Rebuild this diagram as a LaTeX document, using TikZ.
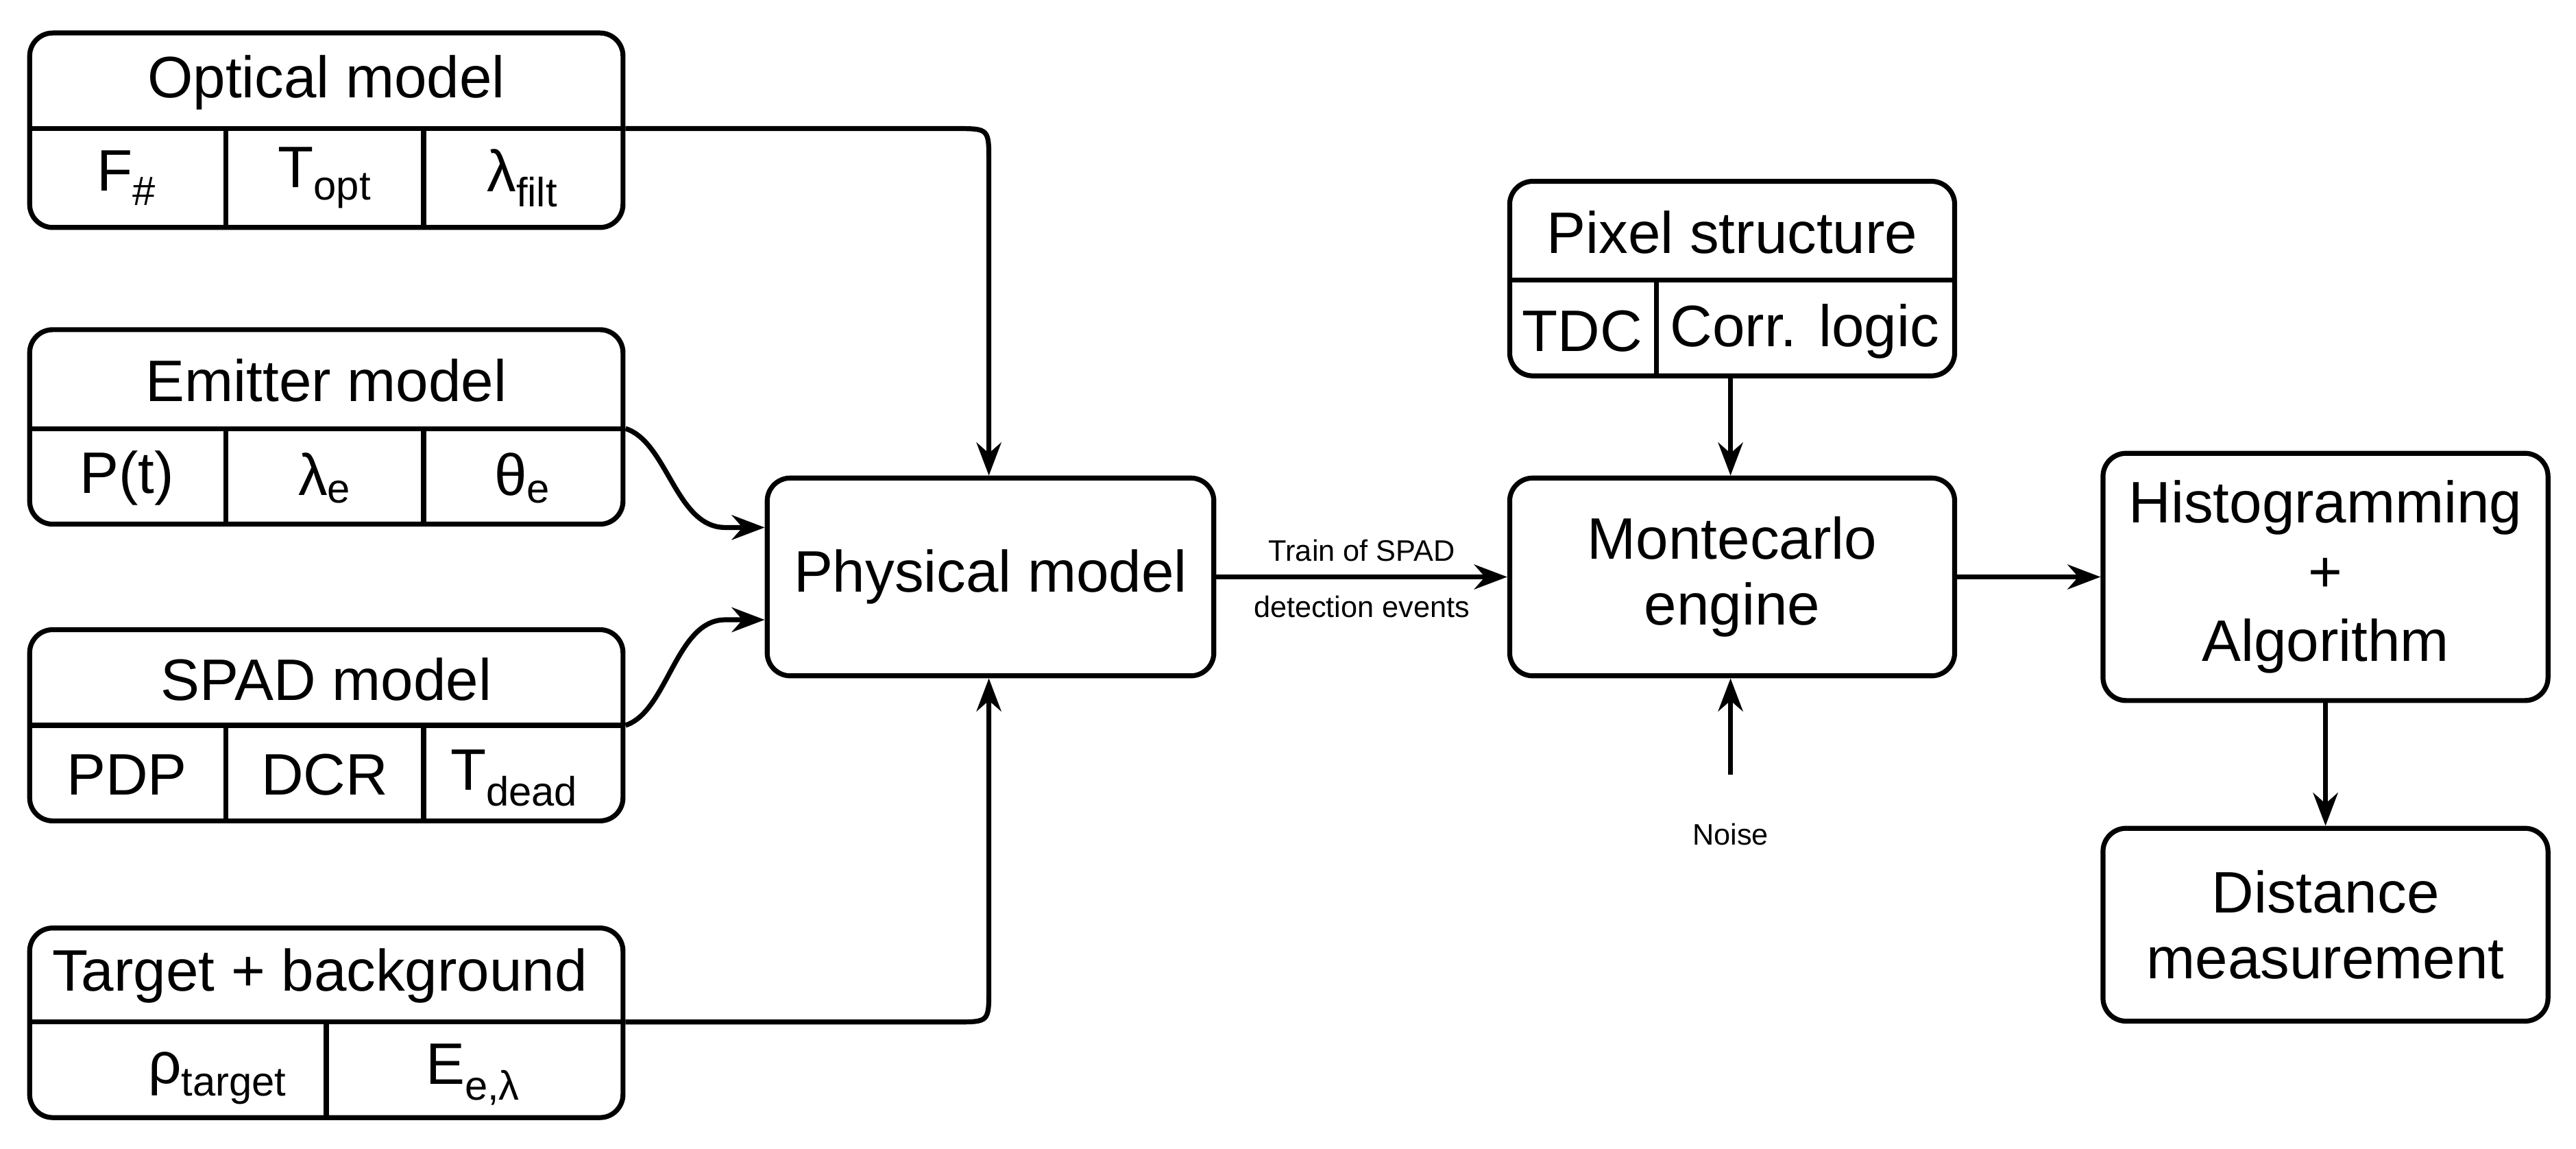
\documentclass[tikz,border=0pt]{standalone}
\usepackage{fontspec}
\setmainfont{Liberation Sans}
\usetikzlibrary{arrows.meta}
\begin{document}
\begin{tikzpicture}[x=1pt,y=-1pt,
  box/.style={draw,line width=3pt,rounded corners=14pt,inner sep=0pt},
  div/.style={line width=3pt},
  txt/.style={font=\fontsize{35.5}{40}\selectfont,inner sep=0pt},
  sm/.style={font=\fontsize{18}{21}\selectfont,inner sep=0pt},
  arr/.style={line width=3pt,-{Stealth[length=20pt,width=15pt]}}]
\useasboundingbox (0,0) rectangle (1563,697);
% left boxes
\foreach \n/\a/\b in {opt/20/138,emi/200/318,spad/382/498,tgt/563/678}{
  \node[box,minimum width=360pt,minimum height={(\b-\a)*1pt}] (\n) at (198,{(\a+\b)/2}) {};
}
\draw[div] (18,78)--(378,78) (137,78)--(137,138) (257,78)--(257,138);
\draw[div] (18,260)--(378,260) (137,260)--(137,318) (257,260)--(257,318);
\draw[div] (18,440)--(378,440) (137,440)--(137,498) (257,440)--(257,498);
\draw[div] (18,620)--(378,620) (198,620)--(198,678);
\node[txt] at (198,50) {Optical model};
\node[txt] at (77,108) {F$_{\#}$};
\node[txt] at (197,108) {T\textsubscript{opt}};
\node[txt] at (317,108) {λ\textsubscript{filt}};
\node[txt] at (198,231) {Emitter model};
\node[txt] at (77,290) {P(t)};
\node[txt] at (197,290) {λ\textsubscript{e}};
\node[txt] at (317,290) {θ\textsubscript{e}};
\node[txt] at (198,412) {SPAD model};
\node[txt] at (77,470) {PDP};
\node[txt] at (197,470) {DCR};
\node[txt] at (312,472) {T\textsubscript{dead}};
\node[txt] at (194,592) {Target + background};
\node[txt] at (132,654) {ρ\textsubscript{target}};
\node[txt] at (287,652) {E\textsubscript{e,λ}};
% center
\node[box,minimum width=271pt,minimum height=120pt,txt] (phys) at (601,350) {Physical model};
\node[box,minimum width=270pt,minimum height=118pt] (pix) at (1051,169) {};
\draw[div] (916,170)--(1186,170) (1005,170)--(1005,228);
\node[txt] at (1051,141) {Pixel structure};
\node[txt] at (960,201) {TDC};
\node[txt] at (1095,201) {Corr. logic};
\node[box,minimum width=270pt,minimum height=120pt,txt,align=center] (mc) at (1051,350) {Montecarlo\\engine};
\node[box,minimum width=270pt,minimum height=150pt,font=\fontsize{35.5}{42}\selectfont,align=center] (hist) at (1411,350) {Histogramming\\+\\Algorithm};
\node[box,minimum width=270pt,minimum height=117pt,txt,align=center] (dist) at (1411,561) {Distance\\measurement};
\node[sm] (noise) at (1050,506) {Noise};
\coordinate (nz) at (1050,470);
% connectors
\draw[arr] (opt.east|-0,78) -- (580,78) .. controls (600,78) .. (600,98) -- (phys.north-|600,0);
\draw[arr] (emi.east|-0,260) .. controls (405,268) and (410,320) .. (440,320) -- (phys.west|-0,320);
\draw[arr] (spad.east|-0,440) .. controls (405,432) and (410,376) .. (440,376) -- (phys.west|-0,376);
\draw[arr] (tgt.east|-0,620) -- (580,620) .. controls (600,620) .. (600,600) -- (phys.south-|600,0);
\draw[arr] (phys.east) -- node[sm,above=8pt]{Train of SPAD} node[sm,below=10pt]{detection events} (mc.west);
\draw[arr] (pix.south-|1050,0) -- (mc.north-|1050,0);
\draw[arr] (nz) -- (mc.south-|1050,0);
\draw[arr] (mc.east) -- (hist.west);
\draw[arr] (hist.south) -- (dist.north);
\end{tikzpicture}
\end{document}
